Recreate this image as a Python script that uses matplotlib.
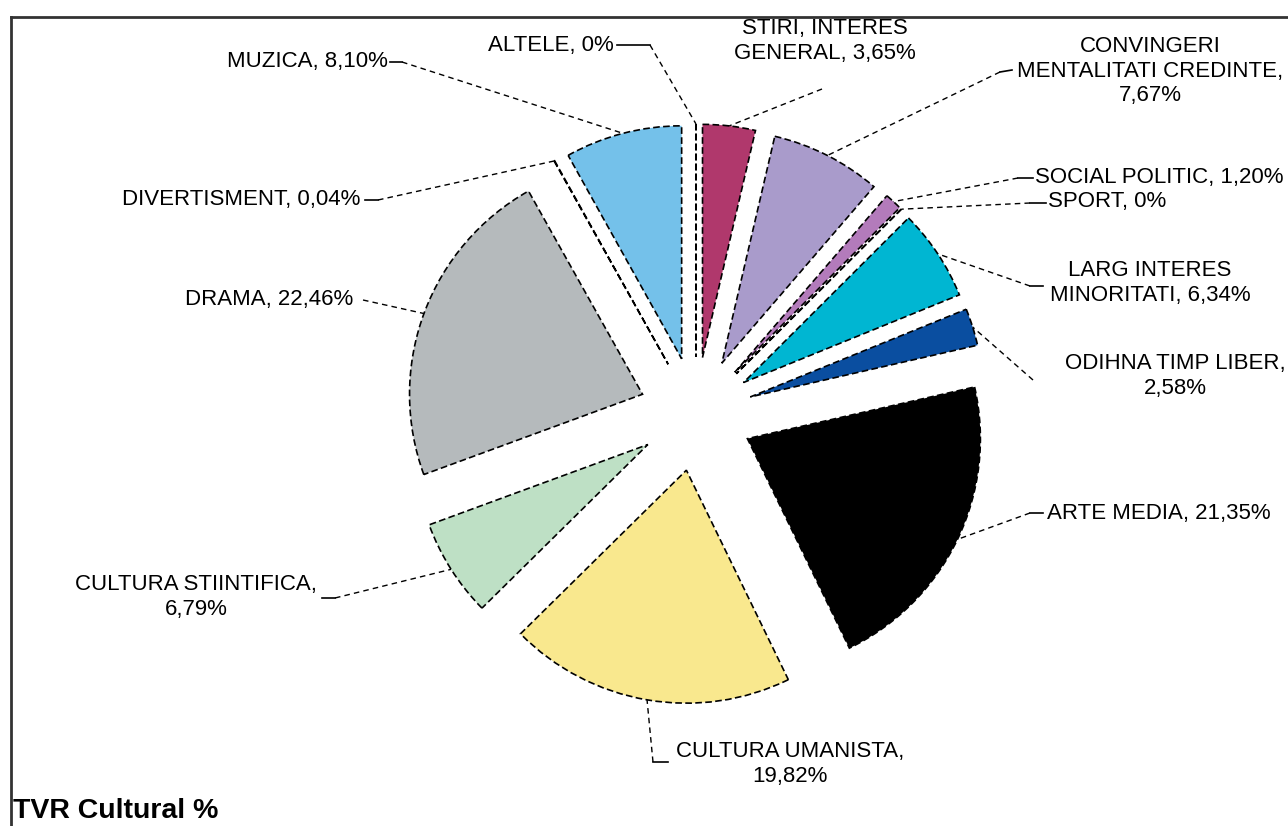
import numpy as np
import matplotlib
matplotlib.use('Agg')
import matplotlib.pyplot as plt

plt.rcParams['font.family'] = ['Liberation Sans', 'DejaVu Sans']

# Share of programme categories, clockwise from the top
categories = ['ALTELE', 'STIRI, INTERES\nGENERAL', 'CONVINGERI\nMENTALITATI CREDINTE,',
              'SOCIAL POLITIC', 'SPORT', 'LARG INTERES\nMINORITATI',
              'ODIHNA TIMP LIBER,\n', 'ARTE MEDIA', 'CULTURA UMANISTA,\n',
              'CULTURA STIINTIFICA,\n', 'DRAMA', 'DIVERTISMENT', 'MUZICA']
values = [0, 3.65, 7.67, 1.20, 0, 6.34, 2.58, 21.35, 19.82, 6.79, 22.46, 0.04, 8.10]
value_text = ['0%', '3,65%', '7,67%', '1,20%', '0%', '6,34%', '2,58%', '21,35%',
              '19,82%', '6,79%', '22,46%', '0,04%', '8,10%']
colors = ['white', '#B0386C', '#A99BCB', '#B37BBB', 'white', '#00B6D2', '#0A4EA0',
          'black', '#F9E88E', '#BEE0C5', '#B5BABC', 'white', '#74C1EA']

# layout in pixel coordinates (y down)
center = (696, 414)
radius = 233
explode_px = 57
label_pos = [(614, 45), (825, 41), (1150, 71), (1035, 178), (1048, 202), (1150, 283),
             (1175, 376), (1047, 513), (790, 764), (196, 597), (353, 300), (360, 200), (388, 62)]
label_ha = ['right', 'center', 'center', 'left', 'left', 'center',
            'center', 'left', 'center', 'center', 'right', 'right', 'right']
leader_start = [[(617, 45), (650, 45)], [(822, 89)], [(1012, 70), (1000, 72)],
                [(1033, 178), (1018, 178)], [(1046, 203), (1030, 203)], [(1043, 286), (1030, 286)],
                [(1033, 380)], [(1043, 513), (1030, 513)], [(668, 762), (653, 762)],
                [(322, 598), (335, 598)], [(363, 300)], [(365, 200), (378, 200)], [(390, 62), (402, 62)]]

fig = plt.figure(figsize=(12.88, 8.26), dpi=100)
ax = fig.add_axes([0, 0, 1, 1])

wedges, _ = ax.pie(values, colors=colors, center=center, radius=radius,
                   explode=[explode_px] * len(values), startangle=-90, counterclock=True,
                   wedgeprops=dict(edgecolor='black', linestyle=(0, (4, 2)), linewidth=1.2))

ax.set_xlim(0, 1288)
ax.set_ylim(826, 0)
ax.set_aspect('equal')
ax.axis('off')

for w, cat, vt, pos, ha, starts in zip(wedges, categories, value_text, label_pos, label_ha, leader_start):
    if cat.endswith('\n'):
        txt = cat + vt
    elif cat.endswith(','):
        txt = cat + '\n' + vt
    else:
        txt = cat + ', ' + vt
    ax.text(pos[0], pos[1], txt, ha=ha, va='center', fontsize=16,
            multialignment='center', linespacing=1.2, color='black')
    mid = np.deg2rad((w.theta1 + w.theta2) / 2)
    ax_x = w.center[0] + w.r * np.cos(mid)
    ax_y = w.center[1] + w.r * np.sin(mid)
    xs = [p[0] for p in starts] + [ax_x]
    ys = [p[1] for p in starts] + [ax_y]
    if len(starts) > 1:
        ax.plot(xs[:2], ys[:2], color='black', lw=1.2)
        xs, ys = xs[1:], ys[1:]
    ax.plot(xs, ys, color='black', lw=1.0, linestyle=(0, (4, 3)))

# frame border
ax.plot([11, 11], [826, 17], color='#333333', lw=2, clip_on=False)
ax.plot([11, 1288], [17, 17], color='#333333', lw=2, clip_on=False)

ax.text(13, 811, 'TVR Cultural %', fontsize=20.5, fontweight='bold', ha='left', va='center')

fig.savefig('out.png', dpi=100)
